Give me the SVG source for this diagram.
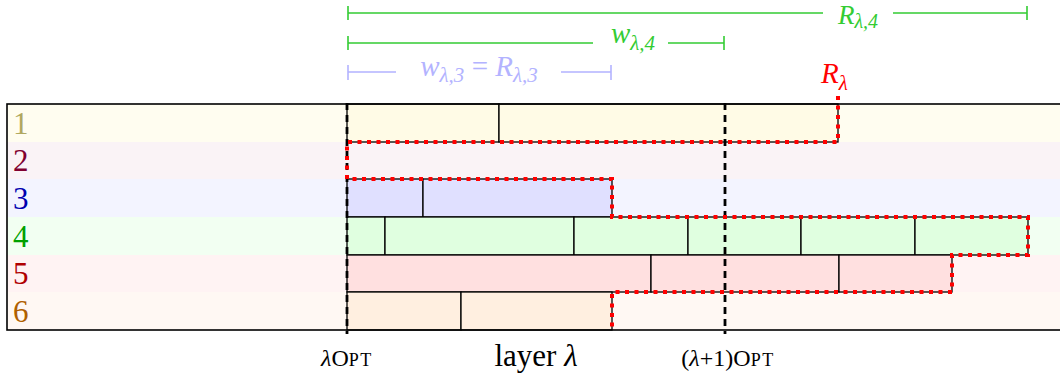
<svg xmlns="http://www.w3.org/2000/svg" width="1060" height="385" viewBox="0 0 1060 385">
<defs>
<style>
.box{stroke:#000;stroke-width:1.3}
.num{font-family:"Liberation Serif",serif;font-size:31px}
.math{font-family:"Liberation Serif",serif;font-style:italic;font-size:29px}
.sub{font-size:21px}
.dim{stroke:#33cc33;stroke-width:1.6;fill:none}
.dim3{stroke:#b3b3ff;stroke-width:1.6;fill:none}
.guide{stroke:#000;stroke-width:2.8;stroke-dasharray:7 5;fill:none}
.prof{stroke:#f00;stroke-width:4;stroke-dasharray:4 5.5;fill:none}
.lbl{font-family:"Liberation Serif",serif;font-size:24px;fill:#000}
.big{font-size:31px}
.sc{font-size:18px;letter-spacing:1.5px}
.it{font-style:italic}
.y1{fill:#fffbe6}.y3{fill:#e0e0ff}.y4{fill:#e0ffe0}.y5{fill:#ffe0e0}.y6{fill:#ffefe0}
</style>
</defs>
<rect width="1060" height="385" fill="#fff"/>
<g id="rows">
<rect x="7" y="104" width="1060" height="38" fill="#fffdf0"/>
<rect x="7" y="142" width="1060" height="37" fill="#faf3f6"/>
<rect x="7" y="179" width="1060" height="38" fill="#f3f4ff"/>
<rect x="7" y="217" width="1060" height="38" fill="#f2fff2"/>
<rect x="7" y="255" width="1060" height="37" fill="#fff3f3"/>
<rect x="7" y="292" width="1060" height="38" fill="#fff8f3"/>
</g>
<g id="row-labels" class="num">
<text x="13" y="134" fill="#b0a860">1</text>
<text x="13" y="171" fill="#800030">2</text>
<text x="13" y="209" fill="#0000b0">3</text>
<text x="13" y="247" fill="#00a000">4</text>
<text x="13" y="284" fill="#b00000">5</text>
<text x="13" y="322" fill="#b06000">6</text>
</g>
<g id="row1">
<rect class="box y1" x="347" y="104" width="152" height="38"/>
<rect class="box y1" x="499" y="104" width="339" height="38"/>
</g>
<g id="row3">
<rect class="box y3" x="347" y="179" width="76" height="38"/>
<rect class="box y3" x="423" y="179" width="189" height="38"/>
</g>
<g id="row4">
<rect class="box y4" x="347" y="217" width="38" height="38"/>
<rect class="box y4" x="385" y="217" width="189" height="38"/>
<rect class="box y4" x="574" y="217" width="114" height="38"/>
<rect class="box y4" x="688" y="217" width="113" height="38"/>
<rect class="box y4" x="801" y="217" width="114" height="38"/>
<rect class="box y4" x="915" y="217" width="113" height="38"/>
</g>
<g id="row5">
<rect class="box y5" x="347" y="255" width="304" height="37"/>
<rect class="box y5" x="651" y="255" width="188" height="37"/>
<rect class="box y5" x="839" y="255" width="113" height="37"/>
</g>
<g id="row6">
<rect class="box y6" x="347" y="292" width="114" height="38"/>
<rect class="box y6" x="461" y="292" width="151" height="38"/>
</g>
<rect id="frame" x="7" y="104" width="1060" height="226" fill="none" stroke="#000" stroke-width="1.6"/>
<g id="connectors">
<path class="guide" d="M347,103 V334 M725,103 V334"/>
<path class="prof" d="M838,96 V142 H347 V179 H612 V217 H1028 V255 H952 V292 H612 V330"/>
<path class="dim" d="M348,13 H823 M893,13 H1027 M348,6 V20 M1027,6 V20"/>
<path class="dim" d="M348,43 H593 M668,43 H724 M348,36 V50 M724,36 V50"/>
<path class="dim3" d="M348,72 H396 M561,72 H611 M348,65 V80 M611,65 V80"/>
</g>
<g id="labels">
<text class="math" x="858" y="24" text-anchor="middle" fill="#33cc33" font-size="27" style="font-size:27px">R<tspan class="sub" dy="4" style="font-size:20px">λ,4</tspan></text>
<text class="math" x="633" y="43" text-anchor="middle" fill="#33cc33">w<tspan class="sub" dy="7">λ,4</tspan></text>
<text class="math" x="479" y="76" text-anchor="middle" fill="#b3b3ff">w<tspan class="sub" dy="6">λ,3</tspan><tspan dy="-6" font-style="normal"> = </tspan>R<tspan class="sub" dy="6">λ,3</tspan></text>
<text class="math" x="821" y="83" fill="#f00">R<tspan class="sub" dy="7">λ</tspan></text>
<text class="lbl" x="347" y="366" text-anchor="middle"><tspan class="it">λ</tspan>O<tspan class="sc">PT</tspan></text>
<text class="lbl big" x="536" y="366" text-anchor="middle">layer <tspan class="it">λ</tspan></text>
<text class="lbl" x="728" y="366" text-anchor="middle">(<tspan class="it">λ</tspan>+1)O<tspan class="sc">PT</tspan></text>
</g>
</svg>
